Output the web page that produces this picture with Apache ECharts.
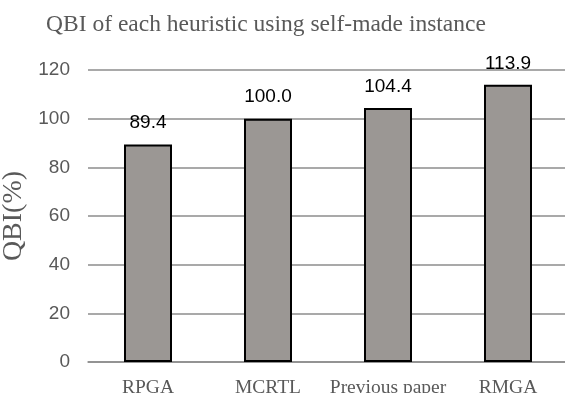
<!DOCTYPE html>
<html>
<head>
<meta charset="utf-8">
<script src="https://cdn.jsdelivr.net/npm/echarts@6/dist/echarts.min.js"></script>
<style>
  html, body { margin: 0; padding: 0; background: #ffffff; }
  #chart { width: 565px; height: 393px; }
</style>
</head>
<body>
<div id="chart"></div>
<script>
// Heuristics compared and their QBI scores (%)
const categories = ['RPGA', 'MCRTL', 'Previous paper', 'RMGA'];
const qbiValues = [89.4, 100.0, 104.4, 113.9];
const yTicks = { min: 0, max: 120, interval: 20 };

const chart = echarts.init(document.getElementById('chart'), null, { renderer: 'canvas' });

chart.setOption({
  backgroundColor: '#ffffff',
  animation: false,
  title: {
    text: 'QBI of each heuristic using self-made instance',
    left: 261,
    textAlign: 'center',
    top: 8,
    textStyle: {
      fontFamily: 'Liberation Serif',
      fontWeight: 'normal',
      fontSize: 23.5,
      color: '#595959'
    }
  },
  grid: {
    left: 88, top: 70, width: 480, height: 292,
    containLabel: false,
    outerBoundsMode: 'none'
  },
  xAxis: {
    type: 'category',
    data: categories,
    axisTick: { show: false },
    axisLine: { lineStyle: { color: '#8c8c8c', width: 1.5 } },
    axisLabel: {
      interval: 0,
      fontFamily: 'Liberation Serif',
      fontSize: 19.5,
      color: '#595959',
      margin: 16
    }
  },
  yAxis: {
    type: 'value',
    min: yTicks.min,
    max: yTicks.max,
    interval: yTicks.interval,
    name: 'QBI(%)',
    nameLocation: 'middle',
    nameGap: 57,
    nameTextStyle: {
      fontFamily: 'Liberation Serif',
      fontSize: 28,
      color: '#595959'
    },
    axisLine: { show: false },
    axisTick: { show: false },
    splitLine: { lineStyle: { color: '#8c8c8c', width: 1.5 } },
    axisLabel: {
      fontFamily: 'Liberation Sans',
      fontSize: 19,
      color: '#595959',
      margin: 18
    }
  },
  series: [{
    type: 'bar',
    data: qbiValues,
    barWidth: 48,
    itemStyle: {
      color: '#9b9794',
      borderColor: '#000000',
      borderWidth: 2
    },
    label: {
      show: true,
      position: 'top',
      distance: 12,
      fontFamily: 'Liberation Sans',
      fontSize: 19,
      color: '#000000',
      formatter: (p) => p.value.toFixed(1)
    }
  }]
});
</script>
</body>
</html>
